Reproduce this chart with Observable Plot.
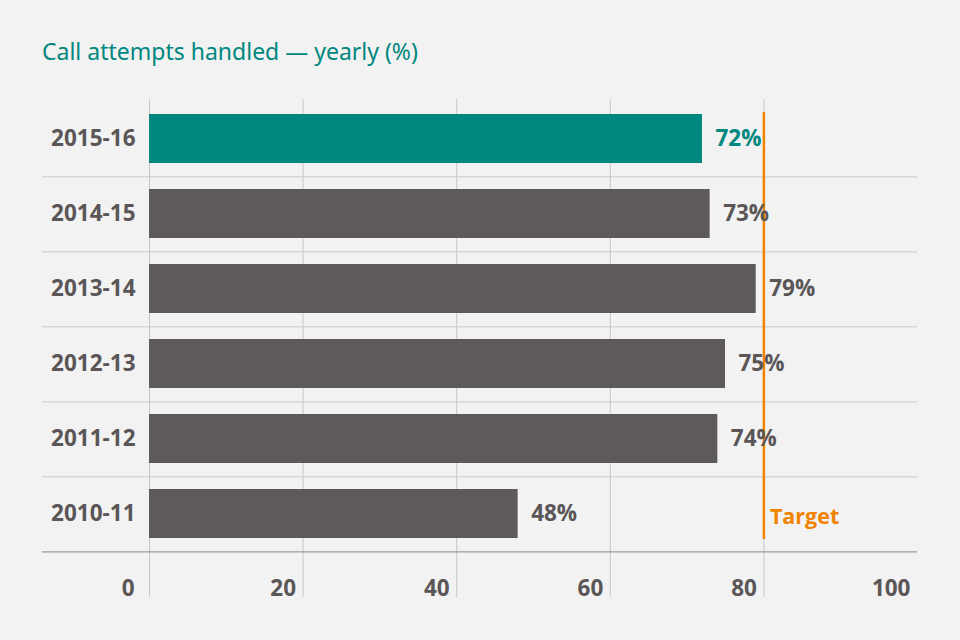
<!DOCTYPE html>
<html>
<head>
<meta charset="utf-8">
<script src="https://cdn.jsdelivr.net/npm/d3@7"></script>
<script src="https://cdn.jsdelivr.net/npm/@observablehq/plot@0.6"></script>
<style>
  html, body { margin: 0; padding: 0; background: #f2f2f2; }
  #title {
    height: 89px; box-sizing: border-box; padding: 40px 0 0 42px;
    font-family: "Noto Sans", sans-serif; font-size: 23px; line-height: 23px;
    color: #00877f;
  }
  #chart svg { display: block; }
</style>
</head>
<body>
<div id="title">Call attempts handled — yearly (%)</div>
<div id="chart"></div>
<script>
const years = ["2015-16", "2014-15", "2013-14", "2012-13", "2011-12", "2010-11"];
const values = [72, 73, 79, 75, 74, 48];
const highlightYear = "2015-16";
const tickValues = [0, 20, 40, 60, 80, 100];
const gridValues = [0, 20, 40, 60, 80];
const targetValue = 80;
const targetLabel = "Target";

const teal = "#00877f";
const grey = "#5e5a5c";
const textGrey = "#5a5657";
const orange = "#f08300";

const data = years.map((y, i) => ({year: y, value: values[i]}));
const targetData = [{value: targetValue, year: years[years.length - 1], label: targetLabel}];
const W = 960, H = 551, mt = 10, mb = 87, ml = 149, mr = 43;
const step = (H - mt - mb) / years.length;

const chart = Plot.plot({
  width: W,
  height: H,
  marginTop: mt,
  marginBottom: mb,
  marginLeft: ml,
  marginRight: mr,
  style: {background: "#f2f2f2", fontFamily: "'Open Sans', sans-serif", overflow: "visible"},
  x: {domain: [0, 100], axis: null},
  y: {domain: years, paddingInner: 0.35, paddingOuter: 0.175, axis: null},
  marks: [
    Plot.ruleX(gridValues, {x: d => d, stroke: "#c6c6c6", strokeWidth: 1, insetBottom: -44}),
    Plot.ruleY(years.slice(0, -1), {y: d => d, dy: step / 2, stroke: "#c9c9c9", strokeWidth: 1, insetLeft: -107}),
    Plot.ruleY(years.slice(-1), {y: d => d, dy: step / 2, stroke: "#9a9a9a", strokeWidth: 1.2, insetLeft: -107}),
    Plot.barX(data, {x: "value", y: "year", fill: d => d.year === highlightYear ? teal : grey}),
    Plot.ruleX([targetValue], {x: d => d, stroke: orange, strokeWidth: 2.5, insetTop: 13, insetBottom: 14}),
    Plot.text(data, {x: "value", y: "year", text: d => d.value + "%", textAnchor: "start", dx: 13,
      fill: d => d.year === highlightYear ? teal : textGrey, fontSize: 22.5, fontWeight: "bold"}),
    Plot.text(years, {y: d => d, frameAnchor: "left", textAnchor: "end", dx: -14,
      fill: textGrey, fontSize: 22.5, fontWeight: "bold"}),
    Plot.text(tickValues.slice(0, 1), {x: d => d, frameAnchor: "bottom", textAnchor: "end", dx: -15, dy: 42,
      fill: textGrey, fontSize: 22.5, fontWeight: "bold"}),
    Plot.text(tickValues.slice(1), {x: d => d, frameAnchor: "bottom", textAnchor: "end", dx: -7, dy: 42,
      fill: textGrey, fontSize: 22.5, fontWeight: "bold"}),
    Plot.text(targetData, {x: "value", y: "year", text: "label", textAnchor: "start", dx: 6, dy: 3,
      fill: orange, fontSize: 21.5, fontWeight: "bold"})
  ]
});
document.getElementById("chart").appendChild(chart);
</script>
</body>
</html>
